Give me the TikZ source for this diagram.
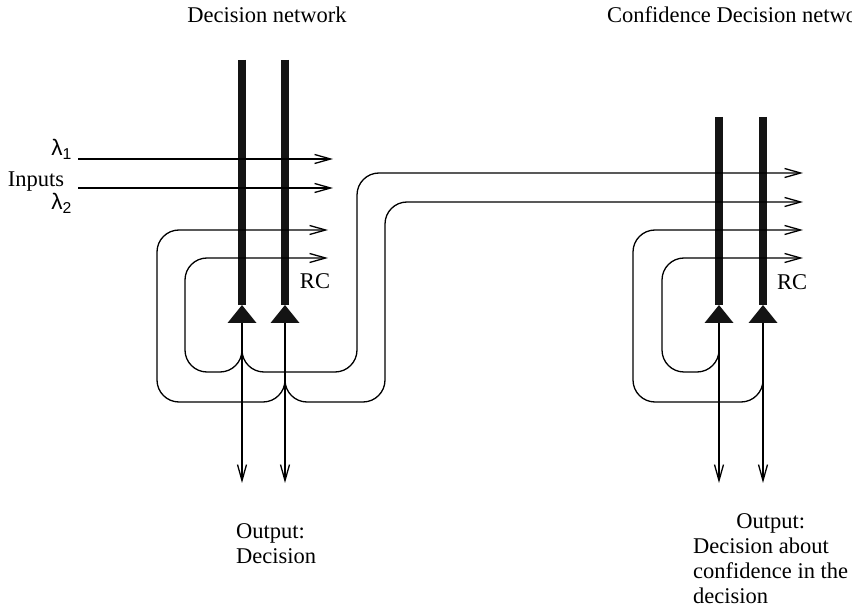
\documentclass[tikz,border=0pt]{standalone}
\usepackage{fontspec}
\setmainfont{Liberation Serif}
\newfontfamily\lambdafont{Liberation Sans}
\usetikzlibrary{arrows.meta}
\tikzset{
  font={\fontsize{22.5pt}{25pt}\selectfont}
}
\def\wireWidth{1.3pt}
\def\axonWidth{8pt}
\def\somaTop{305}
\def\somaBase{323}
\def\outEnd{483}
\tikzstyle{wire}=[line width=\wireWidth,draw=black,rounded corners=22pt]
\tikzstyle{wireArrow}=[wire,-{Straight Barb[length=16pt,width=9pt,line width=\wireWidth]}]
\tikzstyle{axon}=[line width=\axonWidth,draw=black!92]
\tikzstyle{soma}=[fill=black!92]
\tikzstyle{netlabel}=[inner sep=0pt]
\newcommand{\lambdaIn}[1]{{\lambdafont λ\textsubscript{#1}}}
% one unit: thick axon, triangular soma, output wire going down
\newcommand{\neuronUnit}[3]{
    \coordinate (#1-top) at (#2, #3);
    \coordinate (#1) at (#2, \somaTop);
    \coordinate (#1-base) at (#2, \somaBase);
    \coordinate (#1-out) at (#2, \outEnd);
    \draw[axon] (#1-top) -- (#1);
    \fill[soma] (#1) -- ++(14.5, 18) -- ++(-29, 0) -- cycle;
    \draw[wireArrow] (#1-base) -- (#1-out);
}

\begin{document}
\begin{tikzpicture}[x=1pt, y=-1pt]
    \useasboundingbox (0, 0) rectangle (852, 609);

    % decision network
    \neuronUnit{dec1}{242}{60}
    \neuronUnit{dec2}{285}{60}
    \node[netlabel, anchor=base] (dec-title) at (267, 23) {Decision network};
    \node[netlabel, anchor=base] (dec-rc) at (315, 289) {RC};
    \node[netlabel, anchor=north west, align=left] (dec-output) at (236, 523) {Output:\\Decision};

    % confidence network
    \neuronUnit{conf1}{719}{117}
    \neuronUnit{conf2}{763}{117}
    \node[netlabel, anchor=base west] (conf-title) at (607, 23) {Confidence Decision network};
    \node[netlabel, anchor=base] (conf-rc) at (792, 290) {RC};
    \node[netlabel, anchor=north west] (conf-output) at (693, 511) {%
        \begin{tabular}{@{}l@{}}
            \multicolumn{1}{@{}c@{}}{Output:}\\
            Decision about\\
            confidence in the\\
            decision
        \end{tabular}};

    % inputs
    \coordinate (in1) at (78, 159);
    \coordinate (in2) at (78, 188);
    \node[netlabel, anchor=base east] (lambda1) at (72, 156) {\lambdaIn{1}};
    \node[netlabel, anchor=base] (inputs) at (36, 187) {Inputs};
    \node[netlabel, anchor=base east] (lambda2) at (72, 210) {\lambdaIn{2}};

    % arrow ends
    \coordinate (dec-in1) at (333, 159);
    \coordinate (dec-in2) at (333, 188);
    \coordinate (dec-rc1) at (328, 230);
    \coordinate (dec-rc2) at (328, 258);
    \coordinate (conf-in1) at (803, 173);
    \coordinate (conf-in2) at (803, 202);
    \coordinate (conf-rc1) at (803, 230);
    \coordinate (conf-rc2) at (803, 258);

    \draw[wireArrow] (in1) -- (dec-in1);
    \draw[wireArrow] (in2) -- (dec-in2);

    % recurrent loops of the decision network
    \draw[wireArrow] (dec1-base) ++(0, 24) |- (185, 372) |- (dec-rc2);
    \draw[wireArrow] (dec2-base) ++(0, 54) |- (157, 402) |- (dec-rc1);

    % decision outputs feed the confidence network
    \draw[wireArrow] (dec1-base) ++(0, 24) |- (357, 372) |- (conf-in1);
    \draw[wireArrow] (dec2-base) ++(0, 54) |- (385, 402) |- (conf-in2);

    % recurrent loops of the confidence network
    \draw[wireArrow] (conf1-base) ++(0, 25) |- (662, 372) |- (conf-rc2);
    \draw[wireArrow] (conf2-base) ++(0, 54) |- (633, 402) |- (conf-rc1);
\end{tikzpicture}
\end{document}
